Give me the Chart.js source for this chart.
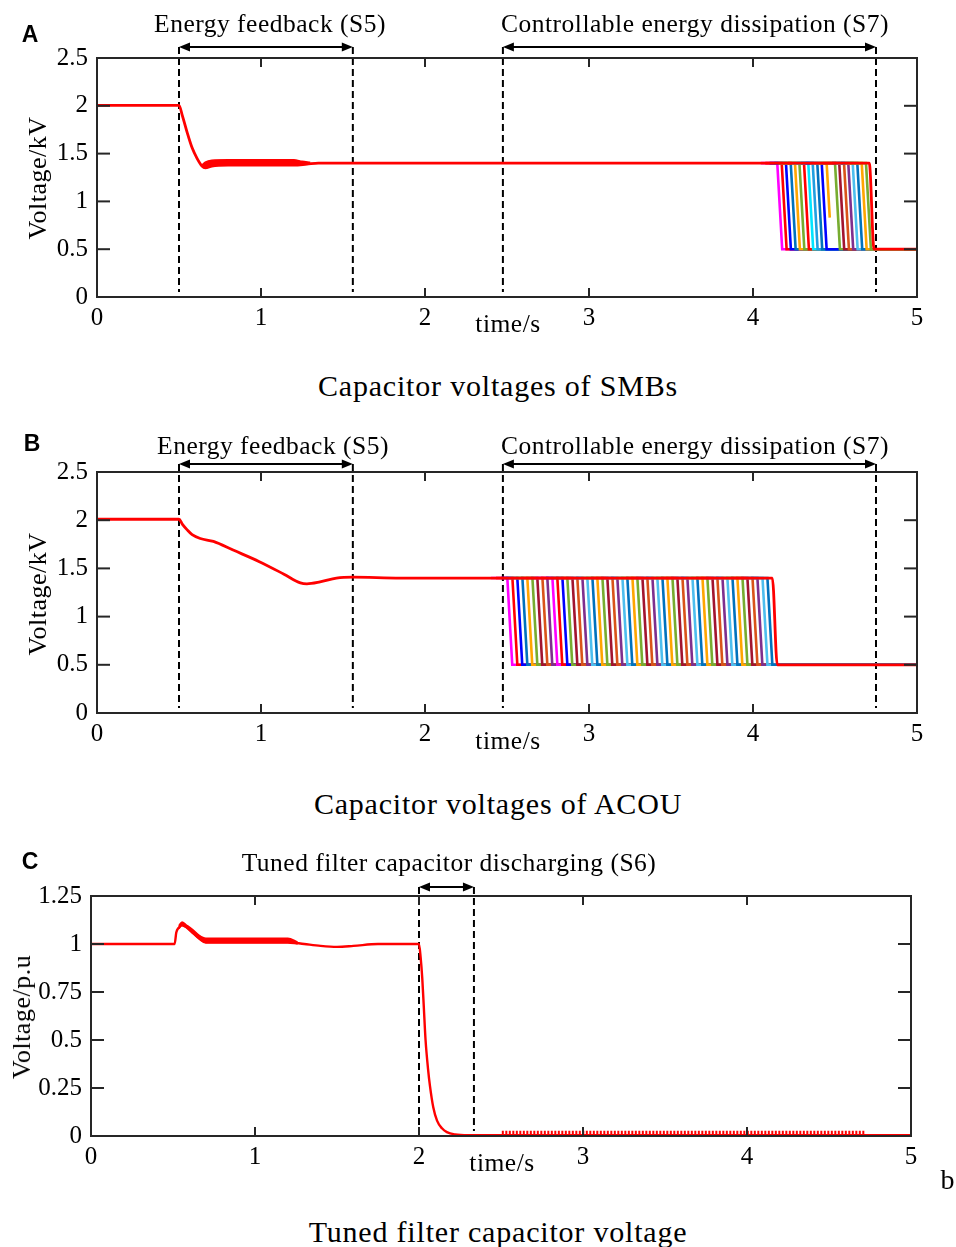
<!DOCTYPE html>
<html>
<head>
<meta charset="utf-8">
<script src="https://cdn.jsdelivr.net/npm/chart.js@4.4.0/dist/chart.umd.min.js"></script>
<style>
    body { margin: 0; background: #fff; }
    #page { position: relative; width: 956px; height: 1247px; overflow: hidden; background: #fff; }
    canvas { position: absolute; left: 0; }
    .t { position: absolute; white-space: nowrap; color: #000; transform: translate(-50%, -50%);
         font-family: 'Liberation Serif', 'Times New Roman', serif; font-size: 25.5px; letter-spacing: 0.5px; }
    .title { font-size: 30px; letter-spacing: 0.8px; }
    .letter { font-family: 'Liberation Sans', Arial, sans-serif; font-weight: bold; font-size: 23px; letter-spacing: 0; }
    .ylab { transform: translate(-50%, -50%) rotate(-90deg); font-size: 26px; }
</style>
</head>
<body>
<div id="page">
    <canvas id="chartA" width="956" height="340" style="top:0"></canvas>
    <canvas id="chartB" width="956" height="340" style="top:420px"></canvas>
    <canvas id="chartC" width="956" height="340" style="top:840px"></canvas>

    <div class="t letter" style="left:30px;top:34px">A</div>
    <div class="t" style="left:270px;top:24px">Energy feedback (S5)</div>
    <div class="t" style="left:695px;top:24px">Controllable energy dissipation (S7)</div>
    <div class="t" style="left:508px;top:324px">time/s</div>
    <div class="t ylab" style="left:38px;top:178px">Voltage/kV</div>
    <div class="t title" style="left:498px;top:386px">Capacitor voltages of SMBs</div>

    <div class="t letter" style="left:32px;top:443px">B</div>
    <div class="t" style="left:273px;top:446px">Energy feedback (S5)</div>
    <div class="t" style="left:695px;top:446px">Controllable energy dissipation (S7)</div>
    <div class="t" style="left:508px;top:741px">time/s</div>
    <div class="t ylab" style="left:38px;top:594px">Voltage/kV</div>
    <div class="t title" style="left:498px;top:804px">Capacitor voltages of ACOU</div>

    <div class="t letter" style="left:30px;top:861px">C</div>
    <div class="t" style="left:449px;top:863px">Tuned filter capacitor discharging (S6)</div>
    <div class="t" style="left:502px;top:1163px">time/s</div>
    <div class="t ylab" style="left:22px;top:1017px">Voltage/p.u</div>
    <div class="t title" style="left:948px;top:1180px;font-size:28px">b</div>
    <div class="t title" style="left:498px;top:1232px">Tuned filter capacitor voltage</div>
</div>

<script>
// ticks
const xTicks = [0, 1, 2, 3, 4, 5]
const kvTicks = [0, 0.5, 1, 1.5, 2, 2.5]
const puTicks = [0, 0.25, 0.5, 0.75, 1, 1.25]

// stage markers (dashed lines) and arrows
const stageMarksAB = [0.5, 1.56, 2.475, 4.75]
const stageSpansAB = [[0.5, 1.56], [2.475, 4.75]]
const stageMarksC = [2.0, 2.335]
const stageSpansC = [[2.0, 2.335]]

// panel A - capacitor voltages of SMBs (envelope of all SMBs, red)
const smbTime = [0, 0.5, 0.52, 0.55, 0.58, 0.61, 0.64, 0.66, 0.7, 0.8, 1.0, 1.2, 1.28, 1.35, 1.5, 2.0, 3.0, 4.0, 4.709, 4.738, 5.0]
const smbVolt = [2.005, 2.005, 1.9, 1.72, 1.56, 1.45, 1.37, 1.35, 1.37, 1.38, 1.38, 1.38, 1.39, 1.40, 1.40, 1.40, 1.40, 1.40, 1.40, 0.5, 0.5]
const smbBandTime = [0.64, 0.66, 0.7, 0.8, 1.0, 1.2, 1.25, 1.3]
const smbBandLow = [1.37, 1.35, 1.37, 1.38, 1.38, 1.38, 1.39, 1.40]
const smbBandHigh = [1.38, 1.41, 1.43, 1.435, 1.435, 1.435, 1.42, 1.41]
// discharge start of every other SMB
const smbDropTimes = [4.148, 4.175, 4.201, 4.230, 4.256, 4.283, 4.311, 4.337, 4.364, 4.392, 4.419, 4.449, 4.500, 4.526, 4.555, 4.581, 4.608, 4.636, 4.663, 4.689]
const smbDropEnd = [0.5, 0.5, 0.5, 0.5, 0.5, 0.5, 0.5, 0.5, 0.5, 0.5, 0.5, 0.83, 0.5, 0.5, 0.5, 0.5, 0.5, 0.5, 0.5, 0.5]

// panel B - capacitor voltages of ACOU
const acouTime = [0, 0.5, 0.52, 0.55, 0.58, 0.63, 0.71, 0.83, 0.99, 1.14, 1.24, 1.28, 1.36, 1.46, 1.56, 1.85, 2.0, 3.0, 4.118, 4.148, 5.0]
const acouVolt = [2.01, 2.01, 1.96, 1.9, 1.85, 1.81, 1.78, 1.69, 1.57, 1.44, 1.35, 1.34, 1.36, 1.40, 1.41, 1.40, 1.40, 1.40, 1.40, 0.50, 0.50]
const acouDropTimes = [
    2.502, 2.533, 2.563, 2.594, 2.624, 2.655, 2.685, 2.716, 2.746, 2.777,
    2.807, 2.838, 2.868, 2.899, 2.929, 2.960, 2.990, 3.021, 3.051, 3.082,
    3.112, 3.143, 3.173, 3.204, 3.234, 3.265, 3.295, 3.326, 3.356, 3.387,
    3.417, 3.448, 3.478, 3.509, 3.539, 3.570, 3.600, 3.631, 3.661, 3.692,
    3.722, 3.753, 3.783, 3.814, 3.844, 3.875, 3.905, 3.936, 3.966, 3.997,
    4.027, 4.058, 4.088
]

// panel C - tuned filter capacitor voltage
const filterTime = [0, 0.51, 0.52, 0.535, 0.555, 0.58, 0.62, 0.66, 0.7, 0.9, 1.1, 1.2, 1.3, 1.4, 1.5, 1.6, 1.75, 2.0, 2.01, 2.02, 2.03, 2.04, 2.055, 2.067, 2.087, 2.11, 2.14, 2.17, 2.22, 2.3, 2.5, 5.0]
const filterVolt = [1.0, 1.0, 1.06, 1.085, 1.10, 1.09, 1.06, 1.03, 1.01, 1.01, 1.01, 1.01, 1.0, 0.99, 0.985, 0.99, 1.0, 1.0, 0.93, 0.82, 0.66, 0.5, 0.35, 0.26, 0.15, 0.08, 0.04, 0.02, 0.008, 0.004, 0.004, 0.004]
const filterBandTime = [0.535, 0.555, 0.58, 0.62, 0.66, 0.7, 0.9, 1.1, 1.2, 1.26]
const filterBandLow = [1.08, 1.095, 1.085, 1.055, 1.025, 1.005, 1.005, 1.005, 1.005, 1.0]
const filterBandHigh = [1.095, 1.115, 1.10, 1.075, 1.045, 1.03, 1.03, 1.03, 1.03, 1.01]
const rippleTime = [2.505, 4.72]
const rippleVolt = [0.017, 0.017]

const HIGH = 1.40
const LOW = 0.50
const DROP = 0.03

const RED = '#ff0000'
const smbColors = ['#ff00ff', '#ff0000', '#0000ff', '#0072bd', '#ffa500', '#77ac30', '#ff0000', '#00e5ff', '#1f9fe0', '#0072bd',
    '#0000ff', '#ffa500', '#77ac30', '#a2142f', '#d95319', '#7e2f8e', '#4dbeee', '#0072bd', '#ffa500', '#77ac30']
const acouHead = ['#ff00ff', '#ff0000', '#0000ff', '#0072bd', '#ffa500', '#77ac30', '#a2142f', '#d95319', '#7e2f8e', '#ff00ff', '#ff0000', '#0000ff']
const acouCycle = ['#77ac30', '#a2142f', '#d95319', '#7e2f8e', '#4dbeee', '#0072bd', '#ffa500']

const FONT = "'Liberation Serif', 'Times New Roman', serif"

const pts = (xs, ys) => xs.map((x, i) => ({ x: x, y: ys[i] }))

const mainLine = (xs, ys, width) => ({
    data: pts(xs, ys), borderColor: RED, borderWidth: width, pointRadius: 0,
    cubicInterpolationMode: 'monotone', order: 0, fill: false,
})

const bandPair = (xs, lo, hi) => ([
    { data: pts(xs, lo), borderColor: RED, borderWidth: 1.5, pointRadius: 0, cubicInterpolationMode: 'monotone', order: 1, fill: false },
    { data: pts(xs, hi), borderColor: RED, borderWidth: 1.5, pointRadius: 0, cubicInterpolationMode: 'monotone', order: 2, fill: '-1', backgroundColor: RED },
])

const dropLine = (t, end, color, i) => {
    const data = [{ x: t - 0.1, y: HIGH }, { x: t, y: HIGH }]
    if (end === LOW) {
        data.push({ x: t + DROP, y: LOW }, { x: 5, y: LOW })
    } else {
        data.push({ x: t + DROP * (HIGH - end) / (HIGH - LOW), y: end })
    }
    return { data: data, borderColor: color, borderWidth: 2.6, pointRadius: 0, tension: 0, order: 200 - i, fill: false }
}

const line = (ctx, x1, y1, x2, y2) => {
    ctx.beginPath()
    ctx.moveTo(x1, y1)
    ctx.lineTo(x2, y2)
    ctx.stroke()
}

const arrowHead = (ctx, x, y, dir) => {
    ctx.beginPath()
    ctx.moveTo(x, y)
    ctx.lineTo(x - dir * 11, y - 4.5)
    ctx.lineTo(x - dir * 11, y + 4.5)
    ctx.closePath()
    ctx.fill()
}

const stagePlugin = {
    id: 'stages',
    beforeDatasetsDraw(chart, args, opts) {
        const { ctx, chartArea: a, scales: { x } } = chart
        const ay = a.top - opts.gap
        ctx.save()
        ctx.strokeStyle = '#000'
        ctx.fillStyle = '#000'
        ctx.lineWidth = 2
        ctx.setLineDash([7, 4])
        opts.marks.forEach(m => {
            const px = x.getPixelForValue(m)
            line(ctx, px, ay, px, a.bottom - 5)
        })
        ctx.setLineDash([])
        opts.spans.forEach(s => {
            const p1 = x.getPixelForValue(s[0])
            const p2 = x.getPixelForValue(s[1])
            line(ctx, p1 + 4, ay, p2 - 4, ay)
            arrowHead(ctx, p1, ay, -1)
            arrowHead(ctx, p2, ay, 1)
        })
        ctx.restore()
    },
    afterDatasetsDraw(chart) {
        const { ctx, chartArea: a, scales: { x, y } } = chart
        ctx.save()
        ctx.strokeStyle = '#262626'
        ctx.lineWidth = 2
        ctx.strokeRect(a.left, a.top, a.width, a.height)
        x.ticks.forEach(t => {
            const px = x.getPixelForValue(t.value)
            line(ctx, px, a.bottom, px, a.bottom - 9)
            line(ctx, px, a.top, px, a.top + 9)
        })
        y.ticks.forEach(t => {
            const py = y.getPixelForValue(t.value)
            line(ctx, a.left, py, a.left + 13, py)
            line(ctx, a.right, py, a.right - 13, py)
        })
        ctx.restore()
    },
}

const makeChart = (id, datasets, yTicks, box, stages) => {
    return new Chart(document.getElementById(id), {
        type: 'line',
        data: { datasets: datasets },
        options: {
            responsive: false,
            animation: false,
            events: [],
            layout: { padding: { top: box.top, right: box.right, left: 0, bottom: 0 } },
            plugins: { legend: { display: false }, tooltip: { enabled: false }, stages: stages },
            scales: {
                x: {
                    type: 'linear', min: 0, max: 5,
                    afterBuildTicks: s => { s.ticks = xTicks.map(v => ({ value: v })) },
                    afterFit: s => { s.height = box.xh },
                    ticks: { color: '#000', font: { family: FONT, size: 25 }, padding: 6, maxRotation: 0, callback: v => String(v) },
                    grid: { display: false, drawTicks: false },
                    border: { display: false },
                },
                y: {
                    type: 'linear', min: yTicks[0], max: yTicks[yTicks.length - 1],
                    afterBuildTicks: s => { s.ticks = yTicks.map(v => ({ value: v })) },
                    afterFit: s => { s.width = box.left },
                    ticks: { color: '#000', font: { family: FONT, size: 25 }, padding: 9, callback: v => String(v) },
                    grid: { display: false, drawTicks: false },
                    border: { display: false },
                },
            },
        },
        plugins: [stagePlugin],
    })
}

// panel A
const smbSets = [mainLine(smbTime, smbVolt, 2.8)].concat(bandPair(smbBandTime, smbBandLow, smbBandHigh))
smbDropTimes.forEach((t, i) => smbSets.push(dropLine(t, smbDropEnd[i], smbColors[i], i)))
makeChart('chartA', smbSets, kvTicks, { top: 58, right: 39, left: 97, xh: 43 }, { marks: stageMarksAB, spans: stageSpansAB, gap: 11 })

// panel B
const acouSets = [mainLine(acouTime, acouVolt, 2.8)]
acouDropTimes.forEach((t, i) => {
    const c = i < acouHead.length ? acouHead[i] : acouCycle[(i - acouHead.length) % acouCycle.length]
    acouSets.push(dropLine(t, LOW, c, i))
})
makeChart('chartB', acouSets, kvTicks, { top: 52, right: 39, left: 97, xh: 47 }, { marks: stageMarksAB, spans: stageSpansAB, gap: 8 })

// panel C
const filterSets = [mainLine(filterTime, filterVolt, 2.4)].concat(bandPair(filterBandTime, filterBandLow, filterBandHigh))
filterSets.push({ data: pts(rippleTime, rippleVolt), borderColor: RED, borderWidth: 4, borderDash: [2, 1.5], pointRadius: 0, order: 3, fill: false })
makeChart('chartC', filterSets, puTicks, { top: 56, right: 45, left: 91, xh: 44 }, { marks: stageMarksC, spans: stageSpansC, gap: 9 })
</script>
</body>
</html>
